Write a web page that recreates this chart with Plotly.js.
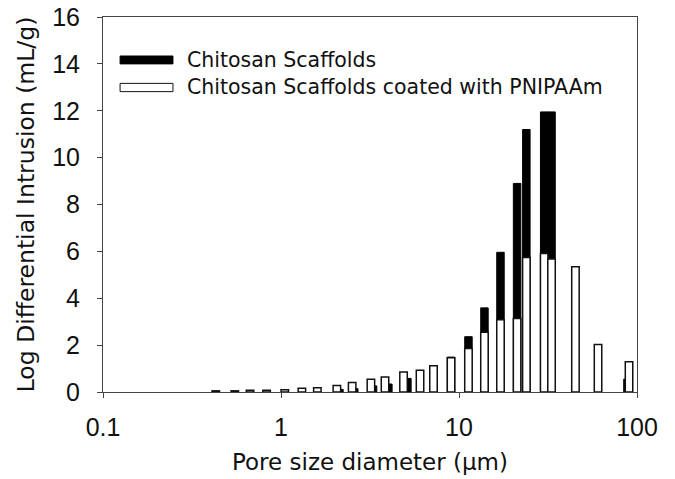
<!DOCTYPE html>
<html>
<head>
<meta charset="utf-8">
<script src="https://cdn.plot.ly/plotly-3.0.1.min.js"></script>
<style>html,body{margin:0;padding:0;background:#fff;}#chart{width:675px;height:479px;}</style>
</head>
<body>
<div id="chart"></div>
<script>
// Pore diameters (µm) and log differential intrusion (mL/g)
const coatedPore = [0.43,0.55,0.67,0.83,1.05,1.31,1.60,2.06,2.51,3.20,3.84,4.88,6.04,7.19,9.02,11.3,13.9,17.1,21.2,23.9,30.1,33.1,45.1,60.4,90.2];
const coatedVal  = [0.05,0.05,0.07,0.07,0.10,0.16,0.18,0.28,0.41,0.54,0.64,0.85,0.93,1.12,1.46,1.86,2.55,3.08,3.14,5.74,5.91,5.68,5.34,2.03,1.29];
const chitosanPore = [2.13,2.58,3.29,4.01,5.13,9.02,11.3,13.9,17.1,21.2,23.9,30.1,33.1,88.4];
const chitosanVal  = [0.11,0.14,0.26,0.34,0.58,1.49,2.36,3.59,5.96,8.90,11.2,11.95,11.95,0.55];
const xTickVals = [0.1, 1, 10, 100];
const xTickText = ['0.1', '1', '10', '100'];
const seriesNames = ['Chitosan Scaffolds', 'Chitosan Scaffolds coated with PNIPAAm'];

const lg = a => a.map(v => Math.log10(v));
const barW = 0.042;

const traces = [
  {type:'bar', x: lg(chitosanPore), y: chitosanVal, width: barW, name: seriesNames[0],
   marker:{color:'#000', line:{color:'#000', width:1}}, showlegend:false},
  {type:'bar', x: lg(coatedPore), y: coatedVal, width: barW, name: seriesNames[1],
   marker:{color:'#fff', line:{color:'#111', width:1.5}}, showlegend:false}
];

const tickFont = {family:'"Liberation Sans", Arial, sans-serif', size:25, color:'#111'};
const titleFont = {family:'"DejaVu Sans", sans-serif', size:23, color:'#111'};
const yTitleFont = {family:'"DejaVu Sans", sans-serif', size:23.5, color:'#111'};
const legFont = {family:'"DejaVu Sans", sans-serif', size:20.5, color:'#111'};
const layout = {
  width:675, height:479,
  margin:{l:103, r:38, t:17, b:87},
  paper_bgcolor:'#fff', plot_bgcolor:'#fff',
  font: tickFont,
  barmode:'overlay', bargap:0,
  showlegend:false,
  xaxis:{
    range:[-1,2], tickvals: lg(xTickVals), ticktext: xTickText, tickfont: tickFont,
    ticks:'outside', ticklen:5, tickcolor:'#444',
    showline:true, linecolor:'#444', linewidth:1, mirror:true,
    showgrid:false, zeroline:false, ticklabelstandoff:8,
    title:{text:'Pore size diameter (µm)', font:titleFont, standoff:13}
  },
  yaxis:{
    range:[0,16], dtick:2, ticks:'outside', ticklen:5, tickcolor:'#444', tickfont: tickFont,
    showline:true, linecolor:'#444', linewidth:1, mirror:true,
    showgrid:false, zeroline:false, ticklabelstandoff:12,
    title:{text:'Log Differential Intrusion (mL/g)', font:yTitleFont, standoff:10}
  },
  shapes:[
    {type:'rect', xref:'paper', yref:'paper', x0:0.032, x1:0.131, y0:0.875, y1:0.896,
     fillcolor:'#000', line:{color:'#000', width:1}},
    {type:'rect', xref:'paper', yref:'paper', x0:0.032, x1:0.131, y0:0.801, y1:0.823,
     fillcolor:'#fff', line:{color:'#111', width:1}}
  ],
  annotations:[
    {xref:'paper', yref:'paper', x:0.154, y:0.886, xanchor:'left', yanchor:'middle',
     text: seriesNames[0], showarrow:false, font:legFont},
    {xref:'paper', yref:'paper', x:0.154, y:0.812, xanchor:'left', yanchor:'middle',
     text: seriesNames[1], showarrow:false, font:legFont}
  ]
};

Plotly.newPlot('chart', traces, layout, {displayModeBar:false, staticPlot:true});
</script>
</body>
</html>
